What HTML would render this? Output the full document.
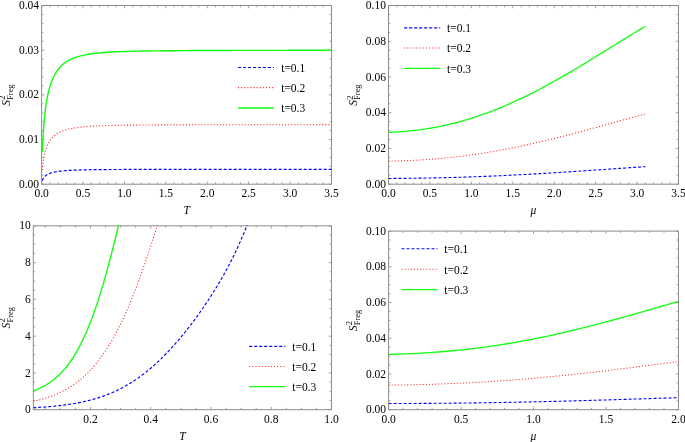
<!DOCTYPE html>
<html><head><meta charset="utf-8"><style>
html,body{margin:0;padding:0;background:#fff;width:685px;height:442px;overflow:hidden}
svg{display:block;will-change:transform}
</style></head><body>
<svg width="685" height="442" viewBox="0 0 685 442" font-family="'Liberation Serif', serif" font-size="11.5" fill="#000">
<defs>
<clipPath id="c1"><rect x="41.6" y="5.0" width="289.9" height="179.2"/></clipPath>
<clipPath id="c2"><rect x="388.5" y="5.0" width="290.0" height="179.2"/></clipPath>
<clipPath id="c3"><rect x="33.3" y="225.35" width="298.2" height="184.35"/></clipPath>
<clipPath id="c4"><rect x="388.6" y="230.6" width="289.9" height="179.1"/></clipPath>
</defs>
<rect width="685" height="442" fill="#fff"/>
<path d="M41.6 5.5H331.5V184.2H41.6Z" fill="none" stroke="#8c8c8c" stroke-width="1"/>
<path d="M49.88 184.2v-1.8M49.88 5.5v1.8M58.17 184.2v-1.8M58.17 5.5v1.8M66.45 184.2v-1.8M66.45 5.5v1.8M74.73 184.2v-1.8M74.73 5.5v1.8M91.30 184.2v-1.8M91.30 5.5v1.8M99.58 184.2v-1.8M99.58 5.5v1.8M107.86 184.2v-1.8M107.86 5.5v1.8M116.15 184.2v-1.8M116.15 5.5v1.8M132.71 184.2v-1.8M132.71 5.5v1.8M140.99 184.2v-1.8M140.99 5.5v1.8M149.28 184.2v-1.8M149.28 5.5v1.8M157.56 184.2v-1.8M157.56 5.5v1.8M174.13 184.2v-1.8M174.13 5.5v1.8M182.41 184.2v-1.8M182.41 5.5v1.8M190.69 184.2v-1.8M190.69 5.5v1.8M198.97 184.2v-1.8M198.97 5.5v1.8M215.54 184.2v-1.8M215.54 5.5v1.8M223.82 184.2v-1.8M223.82 5.5v1.8M232.11 184.2v-1.8M232.11 5.5v1.8M240.39 184.2v-1.8M240.39 5.5v1.8M256.95 184.2v-1.8M256.95 5.5v1.8M265.24 184.2v-1.8M265.24 5.5v1.8M273.52 184.2v-1.8M273.52 5.5v1.8M281.80 184.2v-1.8M281.80 5.5v1.8M298.37 184.2v-1.8M298.37 5.5v1.8M306.65 184.2v-1.8M306.65 5.5v1.8M314.93 184.2v-1.8M314.93 5.5v1.8M323.22 184.2v-1.8M323.22 5.5v1.8M41.60 184.2v-2.8M41.60 5.5v2.8M83.01 184.2v-2.8M83.01 5.5v2.8M124.43 184.2v-2.8M124.43 5.5v2.8M165.84 184.2v-2.8M165.84 5.5v2.8M207.26 184.2v-2.8M207.26 5.5v2.8M248.67 184.2v-2.8M248.67 5.5v2.8M290.09 184.2v-2.8M290.09 5.5v2.8M331.50 184.2v-2.8M331.50 5.5v2.8M41.6 175.26h1.8M331.5 175.26h-1.8M41.6 166.33h1.8M331.5 166.33h-1.8M41.6 157.39h1.8M331.5 157.39h-1.8M41.6 148.46h1.8M331.5 148.46h-1.8M41.6 130.59h1.8M331.5 130.59h-1.8M41.6 121.66h1.8M331.5 121.66h-1.8M41.6 112.72h1.8M331.5 112.72h-1.8M41.6 103.78h1.8M331.5 103.78h-1.8M41.6 85.92h1.8M331.5 85.92h-1.8M41.6 76.98h1.8M331.5 76.98h-1.8M41.6 68.04h1.8M331.5 68.04h-1.8M41.6 59.11h1.8M331.5 59.11h-1.8M41.6 41.24h1.8M331.5 41.24h-1.8M41.6 32.30h1.8M331.5 32.30h-1.8M41.6 23.37h1.8M331.5 23.37h-1.8M41.6 14.44h1.8M331.5 14.44h-1.8M41.6 184.20h2.8M331.5 184.20h-2.8M41.6 139.52h2.8M331.5 139.52h-2.8M41.6 94.85h2.8M331.5 94.85h-2.8M41.6 50.18h2.8M331.5 50.18h-2.8M41.6 5.50h2.8M331.5 5.50h-2.8" stroke="#8c8c8c" stroke-width="0.8" fill="none"/>
<text x="41.60" y="197" text-anchor="middle">0.0</text>
<text x="83.01" y="197" text-anchor="middle">0.5</text>
<text x="124.43" y="197" text-anchor="middle">1.0</text>
<text x="165.84" y="197" text-anchor="middle">1.5</text>
<text x="207.26" y="197" text-anchor="middle">2.0</text>
<text x="248.67" y="197" text-anchor="middle">2.5</text>
<text x="290.09" y="197" text-anchor="middle">3.0</text>
<text x="331.50" y="197" text-anchor="middle">3.5</text>
<text x="39.00" y="188" text-anchor="end">0.00</text>
<text x="39.00" y="143" text-anchor="end">0.01</text>
<text x="39.00" y="98" text-anchor="end">0.02</text>
<text x="39.00" y="54" text-anchor="end">0.03</text>
<text x="39.00" y="9" text-anchor="end">0.04</text>
<path d="M388.5 5.5H678.5V184.2H388.5Z" fill="none" stroke="#8c8c8c" stroke-width="1"/>
<path d="M396.79 184.2v-1.8M396.79 5.5v1.8M405.07 184.2v-1.8M405.07 5.5v1.8M413.36 184.2v-1.8M413.36 5.5v1.8M421.64 184.2v-1.8M421.64 5.5v1.8M438.21 184.2v-1.8M438.21 5.5v1.8M446.50 184.2v-1.8M446.50 5.5v1.8M454.79 184.2v-1.8M454.79 5.5v1.8M463.07 184.2v-1.8M463.07 5.5v1.8M479.64 184.2v-1.8M479.64 5.5v1.8M487.93 184.2v-1.8M487.93 5.5v1.8M496.21 184.2v-1.8M496.21 5.5v1.8M504.50 184.2v-1.8M504.50 5.5v1.8M521.07 184.2v-1.8M521.07 5.5v1.8M529.36 184.2v-1.8M529.36 5.5v1.8M537.64 184.2v-1.8M537.64 5.5v1.8M545.93 184.2v-1.8M545.93 5.5v1.8M562.50 184.2v-1.8M562.50 5.5v1.8M570.79 184.2v-1.8M570.79 5.5v1.8M579.07 184.2v-1.8M579.07 5.5v1.8M587.36 184.2v-1.8M587.36 5.5v1.8M603.93 184.2v-1.8M603.93 5.5v1.8M612.21 184.2v-1.8M612.21 5.5v1.8M620.50 184.2v-1.8M620.50 5.5v1.8M628.79 184.2v-1.8M628.79 5.5v1.8M645.36 184.2v-1.8M645.36 5.5v1.8M653.64 184.2v-1.8M653.64 5.5v1.8M661.93 184.2v-1.8M661.93 5.5v1.8M670.21 184.2v-1.8M670.21 5.5v1.8M388.50 184.2v-2.8M388.50 5.5v2.8M429.93 184.2v-2.8M429.93 5.5v2.8M471.36 184.2v-2.8M471.36 5.5v2.8M512.79 184.2v-2.8M512.79 5.5v2.8M554.21 184.2v-2.8M554.21 5.5v2.8M595.64 184.2v-2.8M595.64 5.5v2.8M637.07 184.2v-2.8M637.07 5.5v2.8M678.50 184.2v-2.8M678.50 5.5v2.8M388.5 175.26h1.8M678.5 175.26h-1.8M388.5 166.33h1.8M678.5 166.33h-1.8M388.5 157.39h1.8M678.5 157.39h-1.8M388.5 139.52h1.8M678.5 139.52h-1.8M388.5 130.59h1.8M678.5 130.59h-1.8M388.5 121.65h1.8M678.5 121.65h-1.8M388.5 103.78h1.8M678.5 103.78h-1.8M388.5 94.85h1.8M678.5 94.85h-1.8M388.5 85.92h1.8M678.5 85.92h-1.8M388.5 68.04h1.8M678.5 68.04h-1.8M388.5 59.11h1.8M678.5 59.11h-1.8M388.5 50.18h1.8M678.5 50.18h-1.8M388.5 32.31h1.8M678.5 32.31h-1.8M388.5 23.37h1.8M678.5 23.37h-1.8M388.5 14.44h1.8M678.5 14.44h-1.8M388.5 184.20h2.8M678.5 184.20h-2.8M388.5 148.46h2.8M678.5 148.46h-2.8M388.5 112.72h2.8M678.5 112.72h-2.8M388.5 76.98h2.8M678.5 76.98h-2.8M388.5 41.24h2.8M678.5 41.24h-2.8M388.5 5.50h2.8M678.5 5.50h-2.8" stroke="#8c8c8c" stroke-width="0.8" fill="none"/>
<text x="388.50" y="197" text-anchor="middle">0.0</text>
<text x="429.93" y="197" text-anchor="middle">0.5</text>
<text x="471.36" y="197" text-anchor="middle">1.0</text>
<text x="512.79" y="197" text-anchor="middle">1.5</text>
<text x="554.21" y="197" text-anchor="middle">2.0</text>
<text x="595.64" y="197" text-anchor="middle">2.5</text>
<text x="637.07" y="197" text-anchor="middle">3.0</text>
<text x="678.50" y="197" text-anchor="middle">3.5</text>
<text x="385.90" y="188" text-anchor="end">0.00</text>
<text x="385.90" y="152" text-anchor="end">0.02</text>
<text x="385.90" y="116" text-anchor="end">0.04</text>
<text x="385.90" y="81" text-anchor="end">0.06</text>
<text x="385.90" y="45" text-anchor="end">0.08</text>
<text x="385.90" y="9" text-anchor="end">0.10</text>
<path d="M33.3 225.85H331.5V409.7H33.3Z" fill="none" stroke="#8c8c8c" stroke-width="1"/>
<path d="M45.27 409.7v-1.8M45.27 225.85v1.8M60.33 409.7v-1.8M60.33 225.85v1.8M75.40 409.7v-1.8M75.40 225.85v1.8M105.53 409.7v-1.8M105.53 225.85v1.8M120.59 409.7v-1.8M120.59 225.85v1.8M135.66 409.7v-1.8M135.66 225.85v1.8M165.78 409.7v-1.8M165.78 225.85v1.8M180.85 409.7v-1.8M180.85 225.85v1.8M195.92 409.7v-1.8M195.92 225.85v1.8M226.05 409.7v-1.8M226.05 225.85v1.8M241.11 409.7v-1.8M241.11 225.85v1.8M256.18 409.7v-1.8M256.18 225.85v1.8M286.31 409.7v-1.8M286.31 225.85v1.8M301.37 409.7v-1.8M301.37 225.85v1.8M316.44 409.7v-1.8M316.44 225.85v1.8M90.46 409.7v-2.8M90.46 225.85v2.8M150.72 409.7v-2.8M150.72 225.85v2.8M210.98 409.7v-2.8M210.98 225.85v2.8M271.24 409.7v-2.8M271.24 225.85v2.8M331.50 409.7v-2.8M331.50 225.85v2.8M33.3 400.51h1.8M331.5 400.51h-1.8M33.3 391.31h1.8M331.5 391.31h-1.8M33.3 382.12h1.8M331.5 382.12h-1.8M33.3 363.74h1.8M331.5 363.74h-1.8M33.3 354.55h1.8M331.5 354.55h-1.8M33.3 345.35h1.8M331.5 345.35h-1.8M33.3 326.97h1.8M331.5 326.97h-1.8M33.3 317.77h1.8M331.5 317.77h-1.8M33.3 308.58h1.8M331.5 308.58h-1.8M33.3 290.20h1.8M331.5 290.20h-1.8M33.3 281.00h1.8M331.5 281.00h-1.8M33.3 271.81h1.8M331.5 271.81h-1.8M33.3 253.43h1.8M331.5 253.43h-1.8M33.3 244.23h1.8M331.5 244.23h-1.8M33.3 235.04h1.8M331.5 235.04h-1.8M33.3 409.70h2.8M331.5 409.70h-2.8M33.3 372.93h2.8M331.5 372.93h-2.8M33.3 336.16h2.8M331.5 336.16h-2.8M33.3 299.39h2.8M331.5 299.39h-2.8M33.3 262.62h2.8M331.5 262.62h-2.8M33.3 225.85h2.8M331.5 225.85h-2.8" stroke="#8c8c8c" stroke-width="0.8" fill="none"/>
<text x="90.46" y="423" text-anchor="middle">0.2</text>
<text x="150.72" y="423" text-anchor="middle">0.4</text>
<text x="210.98" y="423" text-anchor="middle">0.6</text>
<text x="271.24" y="423" text-anchor="middle">0.8</text>
<text x="331.50" y="423" text-anchor="middle">1.0</text>
<text x="30.70" y="413" text-anchor="end">0</text>
<text x="30.70" y="377" text-anchor="end">2</text>
<text x="30.70" y="340" text-anchor="end">4</text>
<text x="30.70" y="303" text-anchor="end">6</text>
<text x="30.70" y="266" text-anchor="end">8</text>
<text x="30.70" y="229" text-anchor="end">10</text>
<path d="M388.6 231.1H678.5V409.7H388.6Z" fill="none" stroke="#8c8c8c" stroke-width="1"/>
<path d="M403.10 409.7v-1.8M403.10 231.1v1.8M417.59 409.7v-1.8M417.59 231.1v1.8M432.09 409.7v-1.8M432.09 231.1v1.8M446.58 409.7v-1.8M446.58 231.1v1.8M475.57 409.7v-1.8M475.57 231.1v1.8M490.07 409.7v-1.8M490.07 231.1v1.8M504.56 409.7v-1.8M504.56 231.1v1.8M519.06 409.7v-1.8M519.06 231.1v1.8M548.05 409.7v-1.8M548.05 231.1v1.8M562.54 409.7v-1.8M562.54 231.1v1.8M577.04 409.7v-1.8M577.04 231.1v1.8M591.53 409.7v-1.8M591.53 231.1v1.8M620.52 409.7v-1.8M620.52 231.1v1.8M635.02 409.7v-1.8M635.02 231.1v1.8M649.51 409.7v-1.8M649.51 231.1v1.8M664.00 409.7v-1.8M664.00 231.1v1.8M388.60 409.7v-2.8M388.60 231.1v2.8M461.08 409.7v-2.8M461.08 231.1v2.8M533.55 409.7v-2.8M533.55 231.1v2.8M606.02 409.7v-2.8M606.02 231.1v2.8M678.50 409.7v-2.8M678.50 231.1v2.8M388.6 400.77h1.8M678.5 400.77h-1.8M388.6 391.84h1.8M678.5 391.84h-1.8M388.6 382.91h1.8M678.5 382.91h-1.8M388.6 365.05h1.8M678.5 365.05h-1.8M388.6 356.12h1.8M678.5 356.12h-1.8M388.6 347.19h1.8M678.5 347.19h-1.8M388.6 329.33h1.8M678.5 329.33h-1.8M388.6 320.40h1.8M678.5 320.40h-1.8M388.6 311.47h1.8M678.5 311.47h-1.8M388.6 293.61h1.8M678.5 293.61h-1.8M388.6 284.68h1.8M678.5 284.68h-1.8M388.6 275.75h1.8M678.5 275.75h-1.8M388.6 257.89h1.8M678.5 257.89h-1.8M388.6 248.96h1.8M678.5 248.96h-1.8M388.6 240.03h1.8M678.5 240.03h-1.8M388.6 409.70h2.8M678.5 409.70h-2.8M388.6 373.98h2.8M678.5 373.98h-2.8M388.6 338.26h2.8M678.5 338.26h-2.8M388.6 302.54h2.8M678.5 302.54h-2.8M388.6 266.82h2.8M678.5 266.82h-2.8M388.6 231.10h2.8M678.5 231.10h-2.8" stroke="#8c8c8c" stroke-width="0.8" fill="none"/>
<text x="388.60" y="423" text-anchor="middle">0.0</text>
<text x="461.08" y="423" text-anchor="middle">0.5</text>
<text x="533.55" y="423" text-anchor="middle">1.0</text>
<text x="606.02" y="423" text-anchor="middle">1.5</text>
<text x="678.50" y="423" text-anchor="middle">2.0</text>
<text x="386.00" y="413" text-anchor="end">0.00</text>
<text x="386.00" y="378" text-anchor="end">0.02</text>
<text x="386.00" y="342" text-anchor="end">0.04</text>
<text x="386.00" y="306" text-anchor="end">0.06</text>
<text x="386.00" y="270" text-anchor="end">0.08</text>
<text x="386.00" y="235" text-anchor="end">0.10</text>
<path d="M42.30,180.66 42.32,180.61 42.34,180.56 42.36,180.51 42.38,180.46 42.40,180.41 42.42,180.35 42.44,180.30 42.46,180.24 42.49,180.19 42.51,180.13 42.53,180.07 42.56,180.01 42.58,179.95 42.61,179.89 42.63,179.83 42.66,179.76 42.69,179.70 42.72,179.64 42.75,179.57 42.78,179.50 42.81,179.44 42.84,179.37 42.87,179.30 42.90,179.23 42.94,179.16 42.97,179.09 43.01,179.02 43.04,178.95 43.08,178.88 43.12,178.80 43.16,178.73 43.20,178.65 43.24,178.58 43.28,178.50 43.33,178.43 43.37,178.35 43.42,178.27 43.46,178.20 43.51,178.12 43.56,178.04 43.61,177.96 43.67,177.88 43.72,177.80 43.77,177.72 43.83,177.64 43.89,177.56 43.95,177.48 44.01,177.40 44.07,177.31 44.14,177.23 44.20,177.15 44.27,177.07 44.34,176.98 44.41,176.90 44.48,176.81 44.56,176.73 44.63,176.65 44.71,176.56 44.79,176.48 44.88,176.39 44.96,176.31 45.05,176.22 45.14,176.14 45.23,176.05 45.32,175.97 45.42,175.88 45.52,175.80 45.62,175.71 45.73,175.63 45.83,175.54 45.94,175.46 46.06,175.37 46.17,175.28 46.29,175.20 46.41,175.11 46.54,175.03 46.66,174.94 46.80,174.86 46.93,174.78 47.07,174.69 47.21,174.61 47.36,174.52 47.51,174.44 47.66,174.36 47.82,174.27 47.98,174.19 48.14,174.11 48.31,174.02 48.49,173.94 48.67,173.86 48.85,173.78 49.04,173.70 49.23,173.62 49.43,173.54 49.63,173.46 49.84,173.38 50.06,173.30 50.27,173.22 50.50,173.14 50.73,173.06 50.97,172.99 51.21,172.91 51.46,172.83 51.72,172.76 51.98,172.68 52.25,172.61 52.53,172.54 52.81,172.46 53.10,172.39 53.40,172.32 53.70,172.25 54.02,172.18 54.34,172.11 54.67,172.04 55.01,171.97 55.36,171.90 55.72,171.84 56.08,171.77 56.46,171.70 56.84,171.64 57.24,171.58 57.65,171.51 58.06,171.45 58.49,171.39 58.93,171.33 59.38,171.27 59.84,171.21 60.31,171.16 60.80,171.10 61.30,171.04 61.81,170.99 62.33,170.94 62.87,170.88 63.42,170.83 63.99,170.78 64.57,170.73 65.17,170.69 65.78,170.64 66.41,170.59 67.05,170.55 67.71,170.50 68.39,170.46 69.08,170.42 69.80,170.38 70.53,170.34 71.28,170.30 72.05,170.26 72.84,170.23 73.65,170.19 74.48,170.15 75.34,170.12 76.21,170.09 77.11,170.06 78.03,170.02 78.98,169.99 79.95,169.96 80.95,169.94 81.97,169.91 83.01,169.88 87.23,169.79 91.44,169.71 95.65,169.65 99.86,169.60 104.07,169.56 108.28,169.53 112.50,169.51 116.71,169.49 120.92,169.47 125.13,169.45 129.34,169.44 133.55,169.43 137.77,169.42 141.98,169.41 146.19,169.40 150.40,169.39 154.61,169.39 158.82,169.38 163.04,169.38 167.25,169.37 171.46,169.37 175.67,169.36 179.88,169.36 184.09,169.36 188.30,169.35 192.52,169.35 196.73,169.35 200.94,169.35 205.15,169.35 209.36,169.34 213.57,169.34 217.79,169.34 222.00,169.34 226.21,169.34 230.42,169.34 234.63,169.34 238.84,169.33 243.06,169.33 247.27,169.33 251.48,169.33 255.69,169.33 259.90,169.33 264.11,169.33 268.33,169.33 272.54,169.33 276.75,169.33 280.96,169.33 285.17,169.33 289.38,169.32 293.60,169.32 297.81,169.32 302.02,169.32 306.23,169.32 310.44,169.32 314.65,169.32 318.87,169.32 323.08,169.32 327.29,169.32 331.50,169.32" fill="none" stroke="#0000ff" stroke-width="1.19" stroke-dasharray="3 2" stroke-linejoin="round" clip-path="url(#c1)"/>
<path d="M42.30,170.03 42.32,169.84 42.34,169.64 42.36,169.44 42.38,169.23 42.40,169.02 42.42,168.81 42.44,168.59 42.46,168.37 42.49,168.14 42.51,167.91 42.53,167.68 42.56,167.44 42.58,167.20 42.61,166.96 42.63,166.71 42.66,166.46 42.69,166.20 42.72,165.94 42.75,165.68 42.78,165.42 42.81,165.15 42.84,164.88 42.87,164.61 42.90,164.33 42.94,164.05 42.97,163.77 43.01,163.48 43.04,163.20 43.08,162.91 43.12,162.61 43.16,162.32 43.20,162.02 43.24,161.72 43.28,161.42 43.33,161.11 43.37,160.81 43.42,160.50 43.46,160.19 43.51,159.87 43.56,159.56 43.61,159.24 43.67,158.93 43.72,158.61 43.77,158.28 43.83,157.96 43.89,157.64 43.95,157.31 44.01,156.98 44.07,156.65 44.14,156.32 44.20,155.99 44.27,155.66 44.34,155.33 44.41,154.99 44.48,154.66 44.56,154.32 44.63,153.98 44.71,153.65 44.79,153.31 44.88,152.97 44.96,152.63 45.05,152.29 45.14,151.95 45.23,151.61 45.32,151.27 45.42,150.93 45.52,150.59 45.62,150.24 45.73,149.90 45.83,149.56 45.94,149.22 46.06,148.88 46.17,148.54 46.29,148.20 46.41,147.86 46.54,147.52 46.66,147.18 46.80,146.84 46.93,146.50 47.07,146.16 47.21,145.83 47.36,145.49 47.51,145.16 47.66,144.82 47.82,144.49 47.98,144.16 48.14,143.83 48.31,143.50 48.49,143.17 48.67,142.84 48.85,142.51 49.04,142.19 49.23,141.87 49.43,141.55 49.63,141.23 49.84,140.91 50.06,140.59 50.27,140.28 50.50,139.97 50.73,139.66 50.97,139.35 51.21,139.04 51.46,138.74 51.72,138.44 51.98,138.14 52.25,137.84 52.53,137.54 52.81,137.25 53.10,136.96 53.40,136.67 53.70,136.39 54.02,136.11 54.34,135.83 54.67,135.55 55.01,135.28 55.36,135.01 55.72,134.74 56.08,134.48 56.46,134.22 56.84,133.96 57.24,133.71 57.65,133.45 58.06,133.21 58.49,132.96 58.93,132.72 59.38,132.49 59.84,132.25 60.31,132.02 60.80,131.80 61.30,131.58 61.81,131.36 62.33,131.15 62.87,130.94 63.42,130.73 63.99,130.53 64.57,130.33 65.17,130.14 65.78,129.95 66.41,129.77 67.05,129.59 67.71,129.41 68.39,129.24 69.08,129.08 69.80,128.91 70.53,128.75 71.28,128.60 72.05,128.45 72.84,128.30 73.65,128.16 74.48,128.02 75.34,127.88 76.21,127.75 77.11,127.62 78.03,127.50 78.98,127.38 79.95,127.26 80.95,127.15 81.97,127.03 83.01,126.93 87.23,126.55 91.44,126.24 95.65,126.00 99.86,125.81 104.07,125.66 108.28,125.53 112.50,125.43 116.71,125.34 120.92,125.27 125.13,125.21 129.34,125.15 133.55,125.11 137.77,125.07 141.98,125.03 146.19,125.00 150.40,124.97 154.61,124.95 158.82,124.92 163.04,124.90 167.25,124.89 171.46,124.87 175.67,124.86 179.88,124.84 184.09,124.83 188.30,124.82 192.52,124.81 196.73,124.80 200.94,124.79 205.15,124.78 209.36,124.78 213.57,124.77 217.79,124.76 222.00,124.76 226.21,124.75 230.42,124.75 234.63,124.74 238.84,124.74 243.06,124.73 247.27,124.73 251.48,124.72 255.69,124.72 259.90,124.72 264.11,124.71 268.33,124.71 272.54,124.71 276.75,124.71 280.96,124.70 285.17,124.70 289.38,124.70 293.60,124.70 297.81,124.69 302.02,124.69 306.23,124.69 310.44,124.69 314.65,124.69 318.87,124.69 323.08,124.68 327.29,124.68 331.50,124.68" fill="none" stroke="#ff2a2a" stroke-width="1.12" stroke-dasharray="1.1 2"  stroke-linejoin="round" clip-path="url(#c1)"/>
<path d="M42.30,152.32 42.32,151.89 42.34,151.44 42.36,150.99 42.38,150.53 42.40,150.05 42.42,149.57 42.44,149.08 42.46,148.58 42.49,148.07 42.51,147.55 42.53,147.03 42.56,146.50 42.58,145.95 42.61,145.40 42.63,144.84 42.66,144.28 42.69,143.71 42.72,143.12 42.75,142.54 42.78,141.94 42.81,141.34 42.84,140.73 42.87,140.11 42.90,139.49 42.94,138.86 42.97,138.23 43.01,137.59 43.04,136.94 43.08,136.29 43.12,135.63 43.16,134.96 43.20,134.29 43.24,133.62 43.28,132.94 43.33,132.25 43.37,131.56 43.42,130.87 43.46,130.17 43.51,129.47 43.56,128.76 43.61,128.05 43.67,127.33 43.72,126.61 43.77,125.89 43.83,125.16 43.89,124.43 43.95,123.70 44.01,122.96 44.07,122.22 44.14,121.48 44.20,120.73 44.27,119.99 44.34,119.24 44.41,118.48 44.48,117.73 44.56,116.97 44.63,116.22 44.71,115.46 44.79,114.70 44.88,113.93 44.96,113.17 45.05,112.40 45.14,111.64 45.23,110.87 45.32,110.10 45.42,109.34 45.52,108.57 45.62,107.80 45.73,107.03 45.83,106.26 45.94,105.50 46.06,104.73 46.17,103.96 46.29,103.20 46.41,102.43 46.54,101.67 46.66,100.90 46.80,100.14 46.93,99.38 47.07,98.62 47.21,97.86 47.36,97.11 47.51,96.35 47.66,95.60 47.82,94.85 47.98,94.10 48.14,93.36 48.31,92.62 48.49,91.88 48.67,91.14 48.85,90.41 49.04,89.68 49.23,88.95 49.43,88.23 49.63,87.51 49.84,86.80 50.06,86.08 50.27,85.38 50.50,84.67 50.73,83.98 50.97,83.28 51.21,82.59 51.46,81.91 51.72,81.23 51.98,80.56 52.25,79.89 52.53,79.22 52.81,78.57 53.10,77.91 53.40,77.27 53.70,76.63 54.02,75.99 54.34,75.37 54.67,74.74 55.01,74.13 55.36,73.52 55.72,72.92 56.08,72.33 56.46,71.74 56.84,71.16 57.24,70.59 57.65,70.02 58.06,69.47 58.49,68.92 58.93,68.38 59.38,67.84 59.84,67.32 60.31,66.80 60.80,66.30 61.30,65.80 61.81,65.31 62.33,64.83 62.87,64.36 63.42,63.90 63.99,63.44 64.57,63.00 65.17,62.57 65.78,62.14 66.41,61.73 67.05,61.33 67.71,60.93 68.39,60.55 69.08,60.17 69.80,59.81 70.53,59.45 71.28,59.10 72.05,58.76 72.84,58.43 73.65,58.11 74.48,57.79 75.34,57.49 76.21,57.19 77.11,56.90 78.03,56.62 78.98,56.35 79.95,56.08 80.95,55.83 81.97,55.58 83.01,55.34 87.23,54.49 91.44,53.80 95.65,53.26 99.86,52.83 104.07,52.48 108.28,52.20 112.50,51.97 116.71,51.77 120.92,51.61 125.13,51.47 129.34,51.34 133.55,51.24 137.77,51.15 141.98,51.07 146.19,51.00 150.40,50.94 154.61,50.88 158.82,50.83 163.04,50.79 167.25,50.75 171.46,50.71 175.67,50.68 179.88,50.65 184.09,50.62 188.30,50.59 192.52,50.57 196.73,50.55 200.94,50.53 205.15,50.51 209.36,50.49 213.57,50.48 217.79,50.46 222.00,50.45 226.21,50.44 230.42,50.43 234.63,50.42 238.84,50.41 243.06,50.40 247.27,50.39 251.48,50.38 255.69,50.37 259.90,50.36 264.11,50.36 268.33,50.35 272.54,50.34 276.75,50.34 280.96,50.33 285.17,50.33 289.38,50.32 293.60,50.32 297.81,50.31 302.02,50.31 306.23,50.30 310.44,50.30 314.65,50.30 318.87,50.29 323.08,50.29 327.29,50.29 331.50,50.28" fill="none" stroke="#10ff10" stroke-width="1.40" stroke-linejoin="round" clip-path="url(#c1)"/>
<path d="M388.50,178.44 390.66,178.43 392.82,178.42 394.98,178.41 397.13,178.40 399.29,178.38 401.45,178.37 403.61,178.35 405.77,178.33 407.93,178.31 410.08,178.28 412.24,178.26 414.40,178.23 416.56,178.20 418.72,178.17 420.88,178.14 423.04,178.11 425.19,178.07 427.35,178.03 429.51,177.99 431.67,177.95 433.83,177.91 435.99,177.87 438.14,177.82 440.30,177.77 442.46,177.72 444.62,177.67 446.78,177.62 448.94,177.56 451.10,177.50 453.25,177.44 455.41,177.38 457.57,177.32 459.73,177.26 461.89,177.19 464.05,177.12 466.20,177.05 468.36,176.98 470.52,176.90 472.68,176.83 474.84,176.75 477.00,176.67 479.16,176.59 481.31,176.51 483.47,176.42 485.63,176.34 487.79,176.25 489.95,176.16 492.11,176.07 494.26,175.97 496.42,175.88 498.58,175.78 500.74,175.68 502.90,175.58 505.06,175.48 507.22,175.38 509.37,175.27 511.53,175.17 513.69,175.06 515.85,174.95 518.01,174.84 520.17,174.72 522.32,174.61 524.48,174.49 526.64,174.38 528.80,174.26 530.96,174.14 533.12,174.02 535.28,173.90 537.43,173.77 539.59,173.65 541.75,173.52 543.91,173.39 546.07,173.26 548.23,173.13 550.38,173.00 552.54,172.87 554.70,172.74 556.86,172.60 559.02,172.47 561.18,172.33 563.34,172.19 565.49,172.05 567.65,171.91 569.81,171.77 571.97,171.63 574.13,171.49 576.29,171.35 578.44,171.20 580.60,171.06 582.76,170.92 584.92,170.77 587.08,170.62 589.24,170.48 591.40,170.33 593.55,170.18 595.71,170.04 597.87,169.89 600.03,169.74 602.19,169.59 604.35,169.44 606.50,169.30 608.66,169.15 610.82,169.00 612.98,168.85 615.14,168.70 617.30,168.55 619.46,168.40 621.61,168.25 623.77,168.11 625.93,167.96 628.09,167.81 630.25,167.66 632.41,167.52 634.56,167.37 636.72,167.23 638.88,167.08 641.04,166.94 643.20,166.79 645.36,166.65" fill="none" stroke="#0000ff" stroke-width="1.10" stroke-dasharray="3 2" stroke-linejoin="round" clip-path="url(#c2)"/>
<path d="M388.50,161.16 390.66,161.12 392.82,161.08 394.98,161.04 397.13,160.98 399.29,160.93 401.45,160.86 403.61,160.79 405.77,160.71 407.93,160.62 410.08,160.53 412.24,160.43 414.40,160.32 416.56,160.21 418.72,160.09 420.88,159.96 423.04,159.83 425.19,159.69 427.35,159.54 429.51,159.38 431.67,159.22 433.83,159.05 435.99,158.87 438.14,158.68 440.30,158.49 442.46,158.29 444.62,158.08 446.78,157.87 448.94,157.64 451.10,157.41 453.25,157.18 455.41,156.93 457.57,156.68 459.73,156.42 461.89,156.15 464.05,155.88 466.20,155.60 468.36,155.31 470.52,155.02 472.68,154.71 474.84,154.40 477.00,154.09 479.16,153.76 481.31,153.43 483.47,153.09 485.63,152.75 487.79,152.39 489.95,152.03 492.11,151.67 494.26,151.29 496.42,150.91 498.58,150.53 500.74,150.13 502.90,149.73 505.06,149.33 507.22,148.91 509.37,148.49 511.53,148.07 513.69,147.63 515.85,147.19 518.01,146.75 520.17,146.30 522.32,145.84 524.48,145.38 526.64,144.91 528.80,144.44 530.96,143.96 533.12,143.47 535.28,142.98 537.43,142.49 539.59,141.99 541.75,141.48 543.91,140.97 546.07,140.45 548.23,139.93 550.38,139.41 552.54,138.88 554.70,138.34 556.86,137.80 559.02,137.26 561.18,136.71 563.34,136.16 565.49,135.61 567.65,135.05 569.81,134.49 571.97,133.93 574.13,133.36 576.29,132.79 578.44,132.22 580.60,131.64 582.76,131.06 584.92,130.48 587.08,129.90 589.24,129.31 591.40,128.73 593.55,128.14 595.71,127.55 597.87,126.96 600.03,126.36 602.19,125.77 604.35,125.18 606.50,124.58 608.66,123.99 610.82,123.39 612.98,122.80 615.14,122.20 617.30,121.61 619.46,121.01 621.61,120.42 623.77,119.83 625.93,119.24 628.09,118.65 630.25,118.06 632.41,117.47 634.56,116.89 636.72,116.31 638.88,115.73 641.04,115.15 643.20,114.58 645.36,114.01" fill="none" stroke="#ff2a2a" stroke-width="1.04" stroke-dasharray="1.1 2"  stroke-linejoin="round" clip-path="url(#c2)"/>
<path d="M388.50,132.35 390.66,132.28 392.82,132.19 394.98,132.08 397.13,131.97 399.29,131.83 401.45,131.69 403.61,131.52 405.77,131.35 407.93,131.15 410.08,130.94 412.24,130.72 414.40,130.48 416.56,130.22 418.72,129.95 420.88,129.67 423.04,129.36 425.19,129.04 427.35,128.71 429.51,128.35 431.67,127.99 433.83,127.60 435.99,127.20 438.14,126.78 440.30,126.35 442.46,125.90 444.62,125.43 446.78,124.95 448.94,124.45 451.10,123.93 453.25,123.40 455.41,122.85 457.57,122.28 459.73,121.70 461.89,121.10 464.05,120.48 466.20,119.85 468.36,119.20 470.52,118.54 472.68,117.85 474.84,117.16 477.00,116.44 479.16,115.71 481.31,114.97 483.47,114.20 485.63,113.43 487.79,112.63 489.95,111.82 492.11,111.00 494.26,110.16 496.42,109.30 498.58,108.43 500.74,107.55 502.90,106.65 505.06,105.73 507.22,104.80 509.37,103.86 511.53,102.90 513.69,101.93 515.85,100.94 518.01,99.94 520.17,98.92 522.32,97.90 524.48,96.85 526.64,95.80 528.80,94.73 530.96,93.66 533.12,92.56 535.28,91.46 537.43,90.34 539.59,89.22 541.75,88.08 543.91,86.93 546.07,85.77 548.23,84.60 550.38,83.41 552.54,82.22 554.70,81.02 556.86,79.81 559.02,78.59 561.18,77.36 563.34,76.12 565.49,74.87 567.65,73.62 569.81,72.36 571.97,71.09 574.13,69.81 576.29,68.53 578.44,67.24 580.60,65.94 582.76,64.64 584.92,63.33 587.08,62.02 589.24,60.71 591.40,59.39 593.55,58.06 595.71,56.73 597.87,55.40 600.03,54.07 602.19,52.74 604.35,51.40 606.50,50.06 608.66,48.72 610.82,47.38 612.98,46.04 615.14,44.70 617.30,43.37 619.46,42.03 621.61,40.69 623.77,39.36 625.93,38.03 628.09,36.70 630.25,35.38 632.41,34.06 634.56,32.75 636.72,31.44 638.88,30.14 641.04,28.84 643.20,27.55 645.36,26.27" fill="none" stroke="#10ff10" stroke-width="1.30" stroke-linejoin="round" clip-path="url(#c2)"/>
<path d="M33.30,407.74 34.78,407.66 36.25,407.57 37.73,407.48 39.21,407.39 40.68,407.30 42.16,407.20 43.63,407.09 45.11,406.98 46.58,406.87 48.06,406.75 49.53,406.62 51.01,406.49 52.49,406.36 53.96,406.22 55.44,406.07 56.91,405.92 58.39,405.75 59.86,405.59 61.34,405.41 62.81,405.23 64.29,405.04 65.77,404.85 67.24,404.64 68.72,404.43 70.19,404.20 71.67,403.97 73.14,403.73 74.62,403.48 76.09,403.22 77.57,402.95 79.05,402.66 80.52,402.37 82.00,402.07 83.47,401.75 84.95,401.42 86.42,401.08 87.90,400.72 89.37,400.35 90.85,399.97 92.33,399.58 93.80,399.16 95.28,398.74 96.75,398.30 98.23,397.84 99.70,397.37 101.18,396.88 102.65,396.37 104.13,395.85 105.61,395.30 107.08,394.74 108.56,394.16 110.03,393.57 111.51,392.95 112.98,392.31 114.46,391.65 115.93,390.97 117.41,390.27 118.89,389.55 120.36,388.81 121.84,388.05 123.31,387.26 124.79,386.45 126.26,385.62 127.74,384.76 129.21,383.88 130.69,382.98 132.17,382.05 133.64,381.10 135.12,380.13 136.59,379.13 138.07,378.10 139.54,377.05 141.02,375.97 142.49,374.87 143.97,373.75 145.45,372.59 146.92,371.41 148.40,370.21 149.87,368.98 151.35,367.73 152.82,366.44 154.30,365.14 155.77,363.80 157.25,362.44 158.73,361.06 160.20,359.65 161.68,358.21 163.15,356.75 164.63,355.26 166.10,353.75 167.58,352.21 169.06,350.65 170.53,349.06 172.01,347.45 173.48,345.82 174.96,344.15 176.43,342.47 177.91,340.76 179.38,339.03 180.86,337.27 182.34,335.48 183.81,333.68 185.29,331.85 186.76,329.99 188.24,328.12 189.71,326.22 191.19,324.29 192.66,322.34 194.14,320.36 195.62,318.37 197.09,316.34 198.57,314.29 200.04,312.22 201.52,310.12 202.99,307.99 204.47,305.84 205.94,303.66 207.42,301.44 208.90,299.20 210.37,296.93 211.85,294.63 213.32,292.30 214.80,289.93 216.27,287.52 217.75,285.08 219.22,282.60 220.70,280.08 222.18,277.52 223.65,274.91 225.13,272.26 226.60,269.55 228.08,266.80 229.55,263.99 231.03,261.11 232.50,258.18 233.98,255.18 235.46,252.11 236.93,248.97 238.41,245.75 239.88,242.45 241.36,239.06 242.83,235.57 244.31,231.98 245.78,228.29 247.26,224.48 248.74,220.56 250.21,216.50 251.69,212.31 253.16,207.97" fill="none" stroke="#0000ff" stroke-width="1.15" stroke-dasharray="3 2" stroke-linejoin="round" clip-path="url(#c3)"/>
<path d="M33.30,401.30 34.15,401.11 35.00,400.92 35.85,400.72 36.70,400.52 37.55,400.31 38.40,400.10 39.24,399.88 40.09,399.66 40.94,399.43 41.79,399.20 42.64,398.96 43.49,398.71 44.34,398.46 45.19,398.20 46.03,397.94 46.88,397.66 47.73,397.39 48.58,397.10 49.43,396.81 50.28,396.51 51.13,396.20 51.97,395.89 52.82,395.56 53.67,395.23 54.52,394.90 55.37,394.55 56.22,394.19 57.07,393.83 57.92,393.46 58.76,393.08 59.61,392.68 60.46,392.28 61.31,391.87 62.16,391.45 63.01,391.02 63.86,390.58 64.71,390.13 65.55,389.67 66.40,389.20 67.25,388.71 68.10,388.22 68.95,387.71 69.80,387.19 70.65,386.66 71.49,386.11 72.34,385.56 73.19,384.99 74.04,384.40 74.89,383.81 75.74,383.20 76.59,382.57 77.44,381.93 78.28,381.28 79.13,380.61 79.98,379.93 80.83,379.23 81.68,378.51 82.53,377.78 83.38,377.04 84.23,376.27 85.07,375.49 85.92,374.70 86.77,373.88 87.62,373.05 88.47,372.20 89.32,371.33 90.17,370.44 91.01,369.54 91.86,368.61 92.71,367.67 93.56,366.70 94.41,365.72 95.26,364.71 96.11,363.69 96.96,362.64 97.80,361.58 98.65,360.49 99.50,359.38 100.35,358.24 101.20,357.09 102.05,355.91 102.90,354.71 103.75,353.48 104.59,352.24 105.44,350.97 106.29,349.67 107.14,348.35 107.99,347.01 108.84,345.64 109.69,344.25 110.53,342.83 111.38,341.38 112.23,339.92 113.08,338.42 113.93,336.90 114.78,335.35 115.63,333.78 116.48,332.18 117.32,330.56 118.17,328.90 119.02,327.22 119.87,325.52 120.72,323.78 121.57,322.03 122.42,320.24 123.27,318.42 124.11,316.58 124.96,314.72 125.81,312.82 126.66,310.90 127.51,308.95 128.36,306.97 129.21,304.97 130.05,302.94 130.90,300.88 131.75,298.80 132.60,296.69 133.45,294.56 134.30,292.40 135.15,290.21 136.00,288.00 136.84,285.77 137.69,283.50 138.54,281.22 139.39,278.91 140.24,276.58 141.09,274.22 141.94,271.85 142.79,269.45 143.63,267.02 144.48,264.58 145.33,262.12 146.18,259.64 147.03,257.14 147.88,254.62 148.73,252.08 149.57,249.53 150.42,246.96 151.27,244.37 152.12,241.77 152.97,239.16 153.82,236.53 154.67,233.90 155.52,231.25 156.36,228.59 157.21,225.93 158.06,223.26 158.91,220.58 159.76,217.89" fill="none" stroke="#ff2a2a" stroke-width="1.08" stroke-dasharray="1.1 2"  stroke-linejoin="round" clip-path="url(#c3)"/>
<path d="M33.30,390.85 33.89,390.65 34.48,390.44 35.06,390.22 35.65,390.00 36.23,389.77 36.82,389.54 37.40,389.29 37.99,389.05 38.58,388.79 39.16,388.53 39.75,388.27 40.33,388.00 40.92,387.72 41.50,387.43 42.09,387.13 42.68,386.83 43.26,386.53 43.85,386.21 44.43,385.89 45.02,385.56 45.61,385.22 46.19,384.87 46.78,384.52 47.36,384.15 47.95,383.78 48.53,383.40 49.12,383.01 49.71,382.62 50.29,382.21 50.88,381.79 51.46,381.37 52.05,380.93 52.64,380.49 53.22,380.04 53.81,379.57 54.39,379.10 54.98,378.61 55.56,378.12 56.15,377.61 56.74,377.10 57.32,376.57 57.91,376.03 58.49,375.48 59.08,374.92 59.67,374.35 60.25,373.76 60.84,373.16 61.42,372.55 62.01,371.93 62.59,371.29 63.18,370.65 63.77,369.98 64.35,369.31 64.94,368.62 65.52,367.91 66.11,367.20 66.69,366.47 67.28,365.72 67.87,364.96 68.45,364.18 69.04,363.39 69.62,362.58 70.21,361.76 70.80,360.92 71.38,360.07 71.97,359.20 72.55,358.31 73.14,357.41 73.72,356.48 74.31,355.55 74.90,354.59 75.48,353.62 76.07,352.63 76.65,351.62 77.24,350.59 77.83,349.54 78.41,348.48 79.00,347.39 79.58,346.29 80.17,345.16 80.75,344.02 81.34,342.86 81.93,341.68 82.51,340.47 83.10,339.25 83.68,338.01 84.27,336.74 84.86,335.46 85.44,334.15 86.03,332.82 86.61,331.47 87.20,330.10 87.78,328.71 88.37,327.30 88.96,325.86 89.54,324.40 90.13,322.92 90.71,321.42 91.30,319.89 91.89,318.35 92.47,316.78 93.06,315.18 93.64,313.57 94.23,311.93 94.81,310.27 95.40,308.58 95.99,306.88 96.57,305.15 97.16,303.39 97.74,301.62 98.33,299.82 98.91,298.00 99.50,296.15 100.09,294.29 100.67,292.40 101.26,290.49 101.84,288.56 102.43,286.60 103.02,284.62 103.60,282.62 104.19,280.60 104.77,278.56 105.36,276.50 105.94,274.42 106.53,272.31 107.12,270.19 107.70,268.05 108.29,265.88 108.87,263.70 109.46,261.50 110.05,259.28 110.63,257.04 111.22,254.79 111.80,252.51 112.39,250.22 112.97,247.92 113.56,245.60 114.15,243.26 114.73,240.91 115.32,238.55 115.90,236.18 116.49,233.79 117.08,231.39 117.66,228.97 118.25,226.55 118.83,224.12 119.42,221.68 120.00,219.23 120.59,216.78" fill="none" stroke="#10ff10" stroke-width="1.35" stroke-linejoin="round" clip-path="url(#c3)"/>
<path d="M388.60,403.56 391.53,403.55 394.46,403.54 397.38,403.53 400.31,403.52 403.24,403.51 406.17,403.49 409.10,403.48 412.03,403.47 414.95,403.45 417.88,403.43 420.81,403.42 423.74,403.40 426.67,403.38 429.60,403.36 432.52,403.33 435.45,403.31 438.38,403.29 441.31,403.26 444.24,403.24 447.17,403.21 450.09,403.18 453.02,403.15 455.95,403.12 458.88,403.09 461.81,403.05 464.74,403.02 467.66,402.98 470.59,402.94 473.52,402.91 476.45,402.87 479.38,402.82 482.31,402.78 485.23,402.74 488.16,402.69 491.09,402.65 494.02,402.60 496.95,402.55 499.87,402.50 502.80,402.45 505.73,402.40 508.66,402.35 511.59,402.29 514.52,402.24 517.44,402.18 520.37,402.12 523.30,402.06 526.23,402.00 529.16,401.94 532.09,401.87 535.01,401.81 537.94,401.75 540.87,401.68 543.80,401.61 546.73,401.54 549.66,401.47 552.58,401.40 555.51,401.33 558.44,401.26 561.37,401.18 564.30,401.11 567.23,401.03 570.15,400.96 573.08,400.88 576.01,400.80 578.94,400.72 581.87,400.64 584.79,400.56 587.72,400.47 590.65,400.39 593.58,400.31 596.51,400.22 599.44,400.14 602.36,400.05 605.29,399.96 608.22,399.88 611.15,399.79 614.08,399.70 617.01,399.61 619.93,399.52 622.86,399.43 625.79,399.34 628.72,399.25 631.65,399.16 634.58,399.07 637.50,398.98 640.43,398.88 643.36,398.79 646.29,398.70 649.22,398.61 652.15,398.51 655.07,398.42 658.00,398.33 660.93,398.23 663.86,398.14 666.79,398.05 669.72,397.95 672.64,397.86 675.57,397.77 678.50,397.68" fill="none" stroke="#0000ff" stroke-width="1.10" stroke-dasharray="3 2" stroke-linejoin="round" clip-path="url(#c4)"/>
<path d="M388.60,385.12 391.53,385.09 394.46,385.06 397.38,385.02 400.31,384.97 403.24,384.93 406.17,384.88 409.10,384.82 412.03,384.76 414.95,384.70 417.88,384.63 420.81,384.56 423.74,384.49 426.67,384.41 429.60,384.33 432.52,384.24 435.45,384.15 438.38,384.05 441.31,383.95 444.24,383.84 447.17,383.73 450.09,383.62 453.02,383.50 455.95,383.37 458.88,383.24 461.81,383.11 464.74,382.97 467.66,382.82 470.59,382.67 473.52,382.52 476.45,382.36 479.38,382.20 482.31,382.03 485.23,381.85 488.16,381.68 491.09,381.49 494.02,381.30 496.95,381.11 499.87,380.91 502.80,380.71 505.73,380.50 508.66,380.28 511.59,380.06 514.52,379.84 517.44,379.61 520.37,379.38 523.30,379.14 526.23,378.90 529.16,378.65 532.09,378.40 535.01,378.14 537.94,377.88 540.87,377.62 543.80,377.35 546.73,377.07 549.66,376.79 552.58,376.51 555.51,376.22 558.44,375.93 561.37,375.63 564.30,375.33 567.23,375.03 570.15,374.72 573.08,374.41 576.01,374.09 578.94,373.78 581.87,373.45 584.79,373.13 587.72,372.80 590.65,372.47 593.58,372.13 596.51,371.79 599.44,371.45 602.36,371.11 605.29,370.76 608.22,370.41 611.15,370.06 614.08,369.70 617.01,369.35 619.93,368.99 622.86,368.63 625.79,368.27 628.72,367.90 631.65,367.54 634.58,367.17 637.50,366.80 640.43,366.43 643.36,366.06 646.29,365.69 649.22,365.32 652.15,364.95 655.07,364.58 658.00,364.20 660.93,363.83 663.86,363.46 666.79,363.09 669.72,362.72 672.64,362.35 675.57,361.98 678.50,361.61" fill="none" stroke="#ff2a2a" stroke-width="1.04" stroke-dasharray="1.1 2"  stroke-linejoin="round" clip-path="url(#c4)"/>
<path d="M388.60,354.40 391.53,354.33 394.46,354.25 397.38,354.16 400.31,354.06 403.24,353.96 406.17,353.84 409.10,353.72 412.03,353.59 414.95,353.45 417.88,353.30 420.81,353.14 423.74,352.98 426.67,352.80 429.60,352.61 432.52,352.41 435.45,352.21 438.38,351.99 441.31,351.76 444.24,351.52 447.17,351.27 450.09,351.01 453.02,350.74 455.95,350.46 458.88,350.17 461.81,349.87 464.74,349.55 467.66,349.23 470.59,348.89 473.52,348.55 476.45,348.19 479.38,347.82 482.31,347.44 485.23,347.05 488.16,346.64 491.09,346.23 494.02,345.81 496.95,345.37 499.87,344.92 502.80,344.46 505.73,343.99 508.66,343.51 511.59,343.02 514.52,342.52 517.44,342.00 520.37,341.48 523.30,340.94 526.23,340.40 529.16,339.84 532.09,339.27 535.01,338.70 537.94,338.11 540.87,337.51 543.80,336.90 546.73,336.28 549.66,335.66 552.58,335.02 555.51,334.37 558.44,333.71 561.37,333.05 564.30,332.37 567.23,331.69 570.15,331.00 573.08,330.30 576.01,329.59 578.94,328.87 581.87,328.14 584.79,327.41 587.72,326.67 590.65,325.92 593.58,325.17 596.51,324.41 599.44,323.64 602.36,322.86 605.29,322.08 608.22,321.30 611.15,320.50 614.08,319.71 617.01,318.90 619.93,318.10 622.86,317.29 625.79,316.47 628.72,315.65 631.65,314.83 634.58,314.01 637.50,313.18 640.43,312.35 643.36,311.52 646.29,310.68 649.22,309.85 652.15,309.01 655.07,308.17 658.00,307.33 660.93,306.50 663.86,305.66 666.79,304.83 669.72,303.99 672.64,303.16 675.57,302.33 678.50,301.50" fill="none" stroke="#10ff10" stroke-width="1.30" stroke-linejoin="round" clip-path="url(#c4)"/>
<path d="M238 67.5H274" fill="none" stroke="#0000ff" stroke-width="1.19" stroke-dasharray="3 2"/>
<text x="281.2" y="71.90">t=0.1</text>
<path d="M238 87.6H274" fill="none" stroke="#ff2a2a" stroke-width="1.12" stroke-dasharray="1.1 2" />
<text x="281.2" y="92.00">t=0.2</text>
<path d="M238 108.0H274" fill="none" stroke="#10ff10" stroke-width="1.40"/>
<text x="281.2" y="112.40">t=0.3</text>
<path d="M404.2 27.9H440.2" fill="none" stroke="#0000ff" stroke-width="1.10" stroke-dasharray="3 2"/>
<text x="447" y="32.30">t=0.1</text>
<path d="M404.2 48.0H440.2" fill="none" stroke="#ff2a2a" stroke-width="1.04" stroke-dasharray="1.1 2" />
<text x="447" y="52.40">t=0.2</text>
<path d="M404.2 68.3H440.2" fill="none" stroke="#10ff10" stroke-width="1.30"/>
<text x="447" y="72.70">t=0.3</text>
<path d="M249.2 346.3H285.2" fill="none" stroke="#0000ff" stroke-width="1.15" stroke-dasharray="3 2"/>
<text x="292.3" y="350.70">t=0.1</text>
<path d="M249.2 366.5H285.2" fill="none" stroke="#ff2a2a" stroke-width="1.08" stroke-dasharray="1.1 2" />
<text x="292.3" y="370.90">t=0.2</text>
<path d="M249.2 386.6H285.2" fill="none" stroke="#10ff10" stroke-width="1.35"/>
<text x="292.3" y="391.00">t=0.3</text>
<path d="M401.5 248.8H437.5" fill="none" stroke="#0000ff" stroke-width="1.10" stroke-dasharray="3 2"/>
<text x="444.3" y="253.20">t=0.1</text>
<path d="M401.5 269.2H437.5" fill="none" stroke="#ff2a2a" stroke-width="1.04" stroke-dasharray="1.1 2" />
<text x="444.3" y="273.60">t=0.2</text>
<path d="M401.5 289.6H437.5" fill="none" stroke="#10ff10" stroke-width="1.30"/>
<text x="444.3" y="294.00">t=0.3</text>
<text x="186.6" y="214" text-anchor="middle" font-style="italic" font-size="11.5">T</text>
<text x="533.5" y="214" text-anchor="middle" font-style="italic" font-size="11.5">μ</text>
<text x="182.5" y="440" text-anchor="middle" font-style="italic" font-size="11.5">T</text>
<text x="533.4" y="440" text-anchor="middle" font-style="italic" font-size="11.5">μ</text>
<g transform="translate(10.2,105.8) rotate(-90)" font-size="11.5"><text x="0" y="0" font-style="italic">S</text><text x="6.0" y="-4.8" font-size="8.6">2</text><text x="6.0" y="2.9" font-size="8.4">Freg</text></g>
<g transform="translate(357.4,105.8) rotate(-90)" font-size="11.5"><text x="0" y="0" font-style="italic">S</text><text x="6.0" y="-4.8" font-size="8.6">2</text><text x="6.0" y="2.9" font-size="8.4">Freg</text></g>
<g transform="translate(9.6,328.5) rotate(-90)" font-size="11.5"><text x="0" y="0" font-style="italic">S</text><text x="6.0" y="-4.8" font-size="8.6">2</text><text x="6.0" y="2.9" font-size="8.4">Freg</text></g>
<g transform="translate(356.6,331.2) rotate(-90)" font-size="11.5"><text x="0" y="0" font-style="italic">S</text><text x="6.0" y="-4.8" font-size="8.6">2</text><text x="6.0" y="2.9" font-size="8.4">Freg</text></g>
</svg>
</body></html>
